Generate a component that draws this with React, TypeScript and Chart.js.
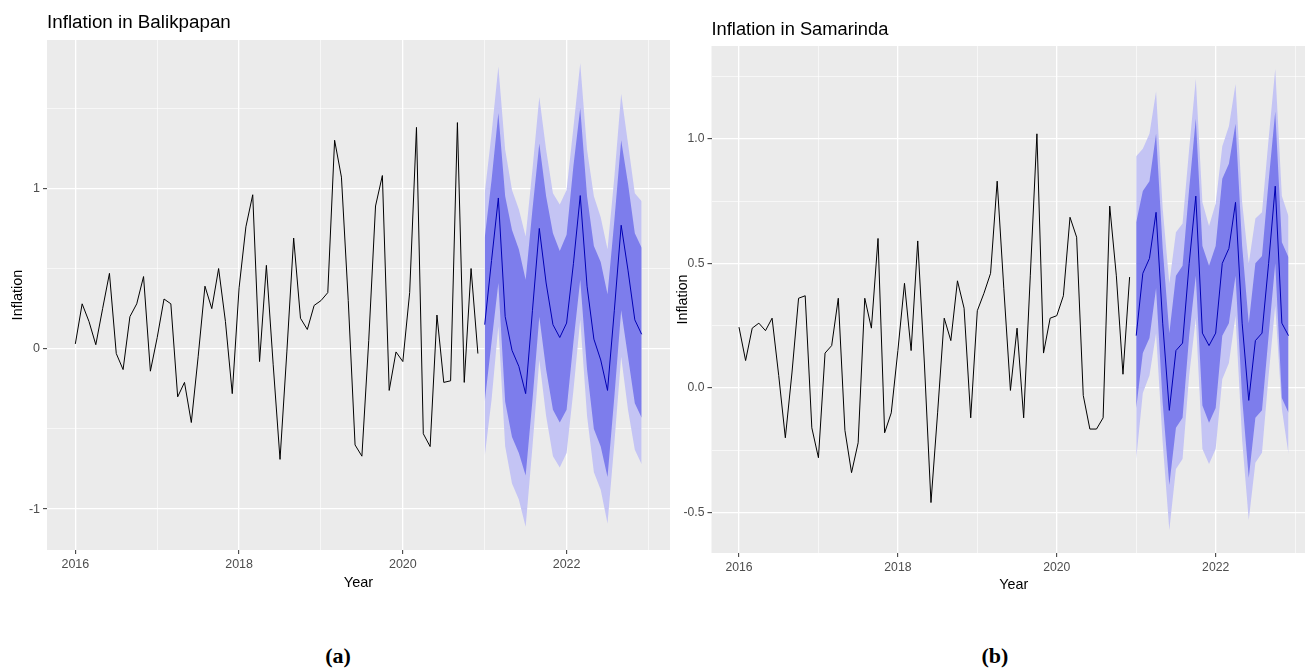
import React, { useEffect, useRef } from 'react';
import { Chart, registerables } from 'chart.js';

Chart.register(...registerables);

// ---------- data ----------
const startYear = 2016;
const forecastStartYear = 2021;
const xTickYears = [2016, 2017, 2018, 2019, 2020, 2021, 2022, 2023];
const xMajorYears = [2016, 2018, 2020, 2022];

const balikpapanActual = [
  0.03, 0.28, 0.17, 0.025, 0.25, 0.47, -0.03, -0.13, 0.2, 0.28, 0.45, -0.14,
  0.07, 0.31, 0.28, -0.3, -0.21, -0.46, -0.05, 0.39, 0.25, 0.5, 0.17, -0.28,
  0.38, 0.76, 0.96, -0.08, 0.52, -0.1, -0.69, -0.02, 0.69, 0.19, 0.12, 0.27,
  0.3, 0.35, 1.3, 1.07, 0.3, -0.6, -0.67, 0.05, 0.89, 1.08, -0.26, -0.02,
  -0.08, 0.35, 1.38, -0.53, -0.61, 0.21, -0.21, -0.2, 1.41, -0.21, 0.5, -0.03,
];
const balikpapanMean = [
  0.15, 0.55, 0.94, 0.2, -0.01, -0.11, -0.28, 0.24, 0.75, 0.41, 0.15, 0.07,
  0.16, 0.53, 0.955, 0.39, 0.06, -0.07, -0.26, 0.24, 0.77, 0.49, 0.18, 0.09,
];
const balikpapanHi80 = [
  0.69, 1.05, 1.47, 0.95, 0.74, 0.62, 0.43, 0.87, 1.28, 0.95, 0.72, 0.61,
  0.71, 1.14, 1.5, 0.95, 0.64, 0.54, 0.34, 0.8, 1.3, 1.03, 0.72, 0.63,
];
const balikpapanLo80 = [
  -0.33, 0.04, 0.41, -0.33, -0.55, -0.65, -0.79, -0.32, 0.2, -0.13, -0.38, -0.46,
  -0.38, 0.04, 0.43, -0.13, -0.5, -0.61, -0.8, -0.3, 0.24, -0.05, -0.34, -0.43,
];
const balikpapanHi95 = [
  0.97, 1.34, 1.76, 1.24, 0.99, 0.87, 0.7, 1.12, 1.57, 1.24, 0.97, 0.9,
  0.99, 1.38, 1.78, 1.24, 0.95, 0.82, 0.62, 1.07, 1.59, 1.28, 0.97, 0.92,
];
const balikpapanLo95 = [
  -0.67, -0.32, 0.14, -0.61, -0.84, -0.94, -1.11, -0.61, -0.07, -0.42, -0.67, -0.74,
  -0.65, -0.26, 0.18, -0.42, -0.77, -0.88, -1.09, -0.59, -0.05, -0.38, -0.63, -0.72,
];
const balikpapanYTicks = [-1, -0.5, 0, 0.5, 1, 1.5];
const balikpapanYMajor = [-1, 0, 1];

const samarindaActual = [
  0.244, 0.11, 0.24, 0.26, 0.23, 0.28, 0.05, -0.2, 0.06, 0.36, 0.37, -0.16,
  -0.28, 0.14, 0.17, 0.36, -0.17, -0.34, -0.22, 0.36, 0.24, 0.6, -0.18, -0.1,
  0.15, 0.42, 0.15, 0.59, 0.1, -0.46, -0.1, 0.28, 0.19, 0.43, 0.32, -0.12,
  0.31, 0.38, 0.46, 0.83, 0.4, -0.01, 0.24, -0.12, 0.45, 1.02, 0.14, 0.28,
  0.29, 0.37, 0.685, 0.605, -0.03, -0.165, -0.165, -0.12, 0.73, 0.45, 0.055, 0.445,
];
const samarindaMean = [
  0.21, 0.46, 0.52, 0.705, 0.26, -0.09, 0.15, 0.18, 0.5, 0.77, 0.22, 0.17,
  0.22, 0.5, 0.56, 0.745, 0.26, -0.05, 0.19, 0.22, 0.5, 0.81, 0.26, 0.21,
];
const samarindaHi80 = [
  0.665, 0.79, 0.83, 1.02, 0.56, 0.22, 0.45, 0.49, 0.8, 1.08, 0.57, 0.49,
  0.57, 0.84, 0.9, 1.06, 0.57, 0.26, 0.5, 0.53, 0.83, 1.11, 0.585, 0.525,
];
const samarindaLo80 = [
  -0.08, 0.14, 0.2, 0.4, -0.06, -0.39, -0.16, -0.12, 0.21, 0.45, -0.07, -0.14,
  -0.08, 0.21, 0.26, 0.45, -0.04, -0.36, -0.12, -0.09, 0.21, 0.5, -0.04, -0.1,
];
const samarindaHi95 = [
  0.93, 0.96, 1.02, 1.19, 0.72, 0.42, 0.625, 0.66, 0.96, 1.24, 0.745, 0.65,
  0.74, 0.97, 1.05, 1.22, 0.745, 0.5, 0.68, 0.705, 1.0, 1.28, 0.77, 0.69,
];
const samarindaLo95 = [
  -0.285, -0.02, 0.05, 0.22, -0.22, -0.57, -0.325, -0.285, 0.05, 0.28, -0.245, -0.305,
  -0.245, 0.035, 0.1, 0.29, -0.21, -0.53, -0.3, -0.26, 0.05, 0.33, -0.085, -0.265,
];
const samarindaYTicks = [-0.5, -0.25, 0, 0.25, 0.5, 0.75, 1.0, 1.25];
const samarindaYMajor = [-0.5, 0, 0.5, 1.0];

// ---------- styling ----------
const FONT = '"Liberation Sans", Arial, Helvetica, sans-serif';
const PANEL_BG = '#EBEBEB';
const LIGHT_BAND = '#C4C4F4';
const DARK_BAND = '#7D7DEC';
const MEAN_COLOR = '#0000B4';

const near = (arr: number[], v: number) => arr.some((m) => Math.abs(m - v) < 1e-9);

const ggPanelPlugin = {
  id: 'ggPanel',
  beforeDraw(chart: any) {
    const { ctx, chartArea: a } = chart;
    ctx.save();
    ctx.fillStyle = PANEL_BG;
    ctx.fillRect(a.left, a.top, a.right - a.left, a.bottom - a.top);
    ctx.restore();
  },
  afterDraw(chart: any, _args: any, opts: any) {
    const { ctx, chartArea: a } = chart;
    ctx.save();
    ctx.font = `${opts.size}px ${FONT}`;
    ctx.fillStyle = '#000000';
    ctx.textAlign = 'left';
    ctx.textBaseline = 'alphabetic';
    ctx.fillText(opts.text, a.left, a.top - opts.gap);
    ctx.restore();
  },
};

type PanelProps = {
  left: number;
  width: number;
  height: number;
  padTop: number;
  padRight: number;
  padBottom: number;
  yAxisWidth: number;
  xAxisHeight: number;
  title: string;
  titleSize: number;
  titleGap: number;
  tickSize: number;
  axisTitleSize: number;
  yTitlePad: number;
  xTitlePad: number;
  xMin: number;
  xMax: number;
  yMin: number;
  yMax: number;
  yTicks: number[];
  yMajor: number[];
  yDecimals: number;
  actual: number[];
  mean: number[];
  lo80: number[];
  hi80: number[];
  lo95: number[];
  hi95: number[];
};

function Panel(p: PanelProps) {
  const ref = useRef<HTMLCanvasElement | null>(null);

  useEffect(() => {
    if (!ref.current) return;
    const toPts = (vals: number[], y0: number) =>
      vals.map((v, i) => ({ x: y0 + i / 12, y: v }));

    const band = (vals: number[], fill: any, color: string) => ({
      data: toPts(vals, forecastStartYear),
      borderColor: 'rgba(0,0,0,0)',
      borderWidth: 0,
      backgroundColor: color,
      pointRadius: 0,
      fill,
      tension: 0,
    });

    const chart = new Chart(ref.current, {
      type: 'line',
      data: {
        datasets: [
          {
            data: toPts(p.actual, startYear),
            borderColor: '#000000',
            borderWidth: 1,
            pointRadius: 0,
            fill: false,
            tension: 0,
          },
          {
            data: toPts(p.mean, forecastStartYear),
            borderColor: MEAN_COLOR,
            borderWidth: 1,
            pointRadius: 0,
            fill: false,
            tension: 0,
          },
          band(p.hi80, 3, DARK_BAND),
          band(p.lo80, false, DARK_BAND),
          band(p.hi95, 5, LIGHT_BAND),
          band(p.lo95, false, LIGHT_BAND),
        ] as any,
      },
      options: {
        animation: false,
        responsive: false,
        maintainAspectRatio: false,
        devicePixelRatio: 1,
        events: [],
        layout: {
          padding: { left: 0, top: p.padTop, right: p.padRight, bottom: p.padBottom },
        },
        plugins: {
          legend: { display: false },
          tooltip: { enabled: false },
          title: { display: false },
          ggPanel: { text: p.title, size: p.titleSize, gap: p.titleGap },
        } as any,
        scales: {
          x: {
            type: 'linear',
            min: p.xMin,
            max: p.xMax,
            afterBuildTicks: (s: any) => {
              s.ticks = xTickYears.map((v) => ({ value: v }));
            },
            afterFit: (s: any) => {
              s.height = p.xAxisHeight;
            },
            border: { display: false },
            grid: {
              color: '#FFFFFF',
              lineWidth: (c: any) => (near(xMajorYears, c.tick?.value) ? 1.3 : 0.6),
              drawTicks: true,
              tickLength: 4,
              tickWidth: 1,
              tickColor: (c: any) =>
                near(xMajorYears, c.tick?.value) ? '#333333' : 'rgba(0,0,0,0)',
            },
            ticks: {
              autoSkip: false,
              maxRotation: 0,
              padding: 3,
              color: '#4D4D4D',
              font: { family: FONT, size: p.tickSize },
              callback: (v: any) => (near(xMajorYears, Number(v)) ? String(v) : ''),
            },
            title: {
              display: true,
              text: 'Year',
              color: '#000000',
              font: { family: FONT, size: p.axisTitleSize },
              padding: { top: 0, bottom: p.xTitlePad },
            },
          },
          y: {
            type: 'linear',
            min: p.yMin,
            max: p.yMax,
            afterBuildTicks: (s: any) => {
              s.ticks = p.yTicks.map((v) => ({ value: v }));
            },
            afterFit: (s: any) => {
              s.width = p.yAxisWidth;
            },
            border: { display: false },
            grid: {
              color: '#FFFFFF',
              lineWidth: (c: any) => (near(p.yMajor, c.tick?.value) ? 1.3 : 0.6),
              drawTicks: true,
              tickLength: 4,
              tickWidth: 1,
              tickColor: (c: any) =>
                near(p.yMajor, c.tick?.value) ? '#333333' : 'rgba(0,0,0,0)',
            },
            ticks: {
              autoSkip: false,
              padding: 3,
              color: '#4D4D4D',
              font: { family: FONT, size: p.tickSize },
              callback: (v: any) =>
                near(p.yMajor, Number(v)) ? Number(v).toFixed(p.yDecimals) : '',
            },
            title: {
              display: true,
              text: 'Inflation',
              color: '#000000',
              font: { family: FONT, size: p.axisTitleSize },
              padding: { top: p.yTitlePad, bottom: 0 },
            },
          },
        },
      } as any,
      plugins: [ggPanelPlugin as any],
    });
    return () => chart.destroy();
  }, []);

  return (
    <canvas
      ref={ref}
      width={p.width}
      height={p.height}
      style={{ position: 'absolute', left: p.left, top: 0, width: p.width, height: p.height }}
    />
  );
}

const captionStyle: React.CSSProperties = {
  position: 'absolute',
  top: 643,
  width: 100,
  height: 26,
  lineHeight: '26px',
  textAlign: 'center',
  fontFamily: '"Liberation Serif", "DejaVu Serif", serif',
  fontWeight: 'bold',
  fontSize: 22,
  color: '#000000',
};

export default function App() {
  useEffect(() => {
    document.body.style.margin = '0';
  }, []);
  return (
    <div
      style={{
        position: 'absolute',
        left: 0,
        top: 0,
        width: 1305,
        height: 669,
        overflow: 'hidden',
        background: '#FFFFFF',
      }}
    >
      <Panel
        left={0}
        width={675}
        height={610}
        padTop={40}
        padRight={5}
        padBottom={10}
        yAxisWidth={47}
        xAxisHeight={50}
        title="Inflation in Balikpapan"
        titleSize={18.8}
        titleGap={12}
        tickSize={12.5}
        axisTitleSize={14.5}
        yTitlePad={8.8}
        xTitlePad={8.3}
        xMin={2015.654}
        xMax={2023.263}
        yMin={-1.255}
        yMax={1.925}
        yTicks={balikpapanYTicks}
        yMajor={balikpapanYMajor}
        yDecimals={0}
        actual={balikpapanActual}
        mean={balikpapanMean}
        lo80={balikpapanLo80}
        hi80={balikpapanHi80}
        lo95={balikpapanLo95}
        hi95={balikpapanHi95}
      />
      <Panel
        left={665}
        width={661}
        height={613}
        padTop={46}
        padRight={10}
        padBottom={10}
        yAxisWidth={46.5}
        xAxisHeight={50}
        title="Inflation in Samarinda"
        titleSize={18.3}
        titleGap={11}
        tickSize={12.2}
        axisTitleSize={14.3}
        yTitlePad={9.3}
        xTitlePad={9.3}
        xMin={2015.654}
        xMax={2023.263}
        yMin={-0.6625}
        yMax={1.3725}
        yTicks={samarindaYTicks}
        yMajor={samarindaYMajor}
        yDecimals={1}
        actual={samarindaActual}
        mean={samarindaMean}
        lo80={samarindaLo80}
        hi80={samarindaHi80}
        lo95={samarindaLo95}
        hi95={samarindaHi95}
      />
      <div style={{ ...captionStyle, left: 288 }}>(a)</div>
      <div style={{ ...captionStyle, left: 945 }}>(b)</div>
    </div>
  );
}
